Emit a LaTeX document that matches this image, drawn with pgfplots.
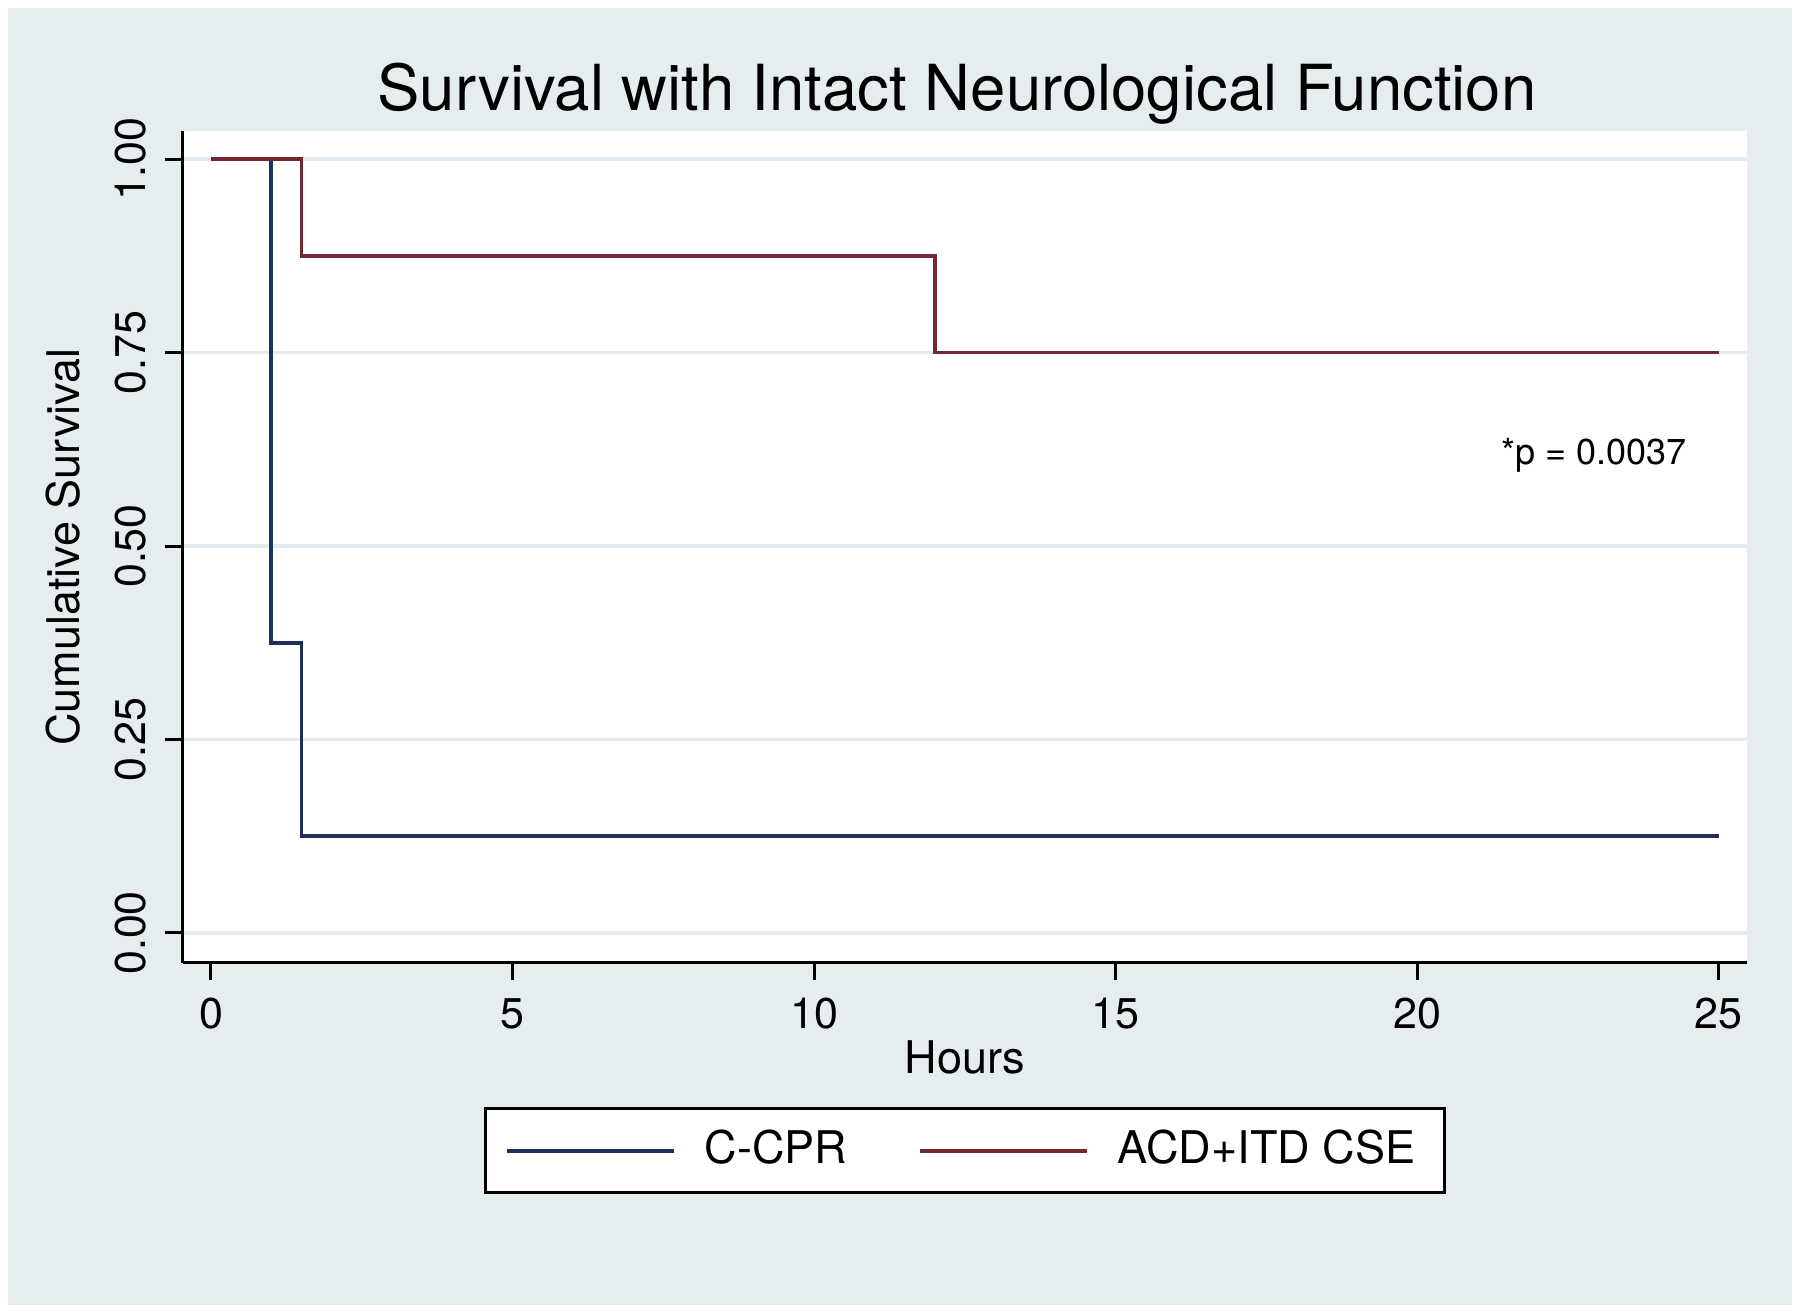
\documentclass[border=0pt]{standalone}
\usepackage{fontspec}
\setmainfont{TeX Gyre Heros}
\usepackage{pgfplots}
\pgfplotsset{compat=1.18}
\definecolor{bgc}{RGB}{230,237,239}
\definecolor{gridc}{RGB}{228,235,238}
\definecolor{navyc}{RGB}{30,47,94}
\definecolor{maroonc}{RGB}{114,40,46}
\begin{document}
\begin{tikzpicture}
\useasboundingbox (-36.6pt,-70pt) rectangle (323.4pt,192.6pt);
\fill[white] (-36.6pt,-70pt) rectangle (323.4pt,192.6pt);
\fill[bgc] (-35pt,-68.4pt) rectangle (321.8pt,191pt);
\begin{axis}[
  at={(0pt,0pt)}, anchor=south west,
  scale only axis, width=312.8pt, height=166.3pt,
  xmin=-0.464, xmax=25.47, ymin=-0.0388, ymax=1.0357,
  axis x line*=bottom, axis y line*=left,
  axis line style={black, line width=0.6pt, -},
  axis background/.style={fill=white},
  tick align=outside, major tick length=3.5pt,
  tick style={black, line width=0.6pt},
  xtick={0,5,10,15,20,25},
  ytick={0,0.25,0.5,0.75,1},
  yticklabel style={/pgf/number format/fixed, /pgf/number format/fixed zerofill, /pgf/number format/precision=2, rotate=90, anchor=south, inner sep=3.7pt},
  ymajorgrids, major grid style={gridc, line width=0.7pt},
  tick label style={font=\fontsize{8.6}{10}\selectfont},
  /pgf/number format/assume math mode=true,
  xlabel={Hours}, ylabel={Cumulative Survival},
  label style={font=\fontsize{9}{11}\selectfont},
  xlabel style={at={(axis description cs:0.5,-0.113)}, anchor=center},
  ylabel style={at={(axis description cs:-0.0767,0.5)}, anchor=center},
  title={Survival with Intact Neurological Function},
  every axis title/.style={at={(axis description cs:0.4949,1.0247)}, anchor=base, font=\fontsize{12.7}{15}\selectfont},
  legend columns=2,
  legend style={at={(axis description cs:0.5,-0.226)}, anchor=center, draw=black, line width=0.6pt, fill=white, inner xsep=3.8pt, inner ysep=2.3pt, font=\fontsize{9}{11}\selectfont, /tikz/every even column/.append style={column sep=12.2pt}, nodes={inner sep=2pt, text depth=0.15em}},
  legend cell align=left,
  legend image code/.code={\path (0pt,0pt) (37.2pt,0pt); \draw[#1] (0pt,0pt) -- (33.4pt,0pt);},
]
\addplot[navyc, line width=0.75pt] coordinates {(0,1) (1,1) (1,0.375) (1.5,0.375) (1.5,0.125) (25,0.125)};
\addlegendentry{C-CPR}
\addplot[maroonc, line width=0.75pt] coordinates {(0,1) (1.5,1) (1.5,0.875) (12,0.875) (12,0.75) (25,0.75)};
\addlegendentry{ACD+ITD CSE}
\node[font=\fontsize{7.2}{8}\selectfont, anchor=base] at (axis cs:22.93,0.6054) {*p = 0.0037};
\end{axis}
\end{tikzpicture}
\end{document}
